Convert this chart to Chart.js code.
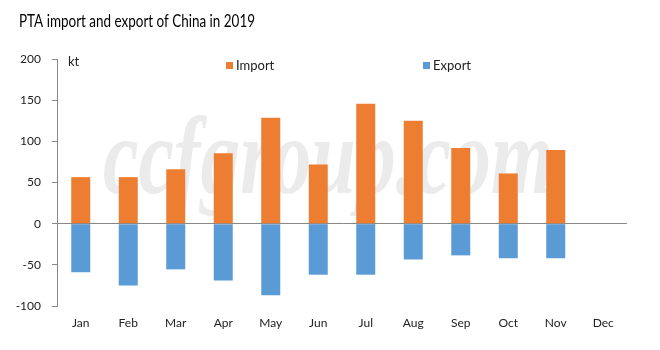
<!DOCTYPE html>
<html>
<head>
<meta charset="utf-8">
<script src="https://cdn.jsdelivr.net/npm/chart.js@4/dist/chart.umd.min.js"></script>
<style>
html,body{margin:0;padding:0;background:#fff;}
#wrap{width:660px;height:350px;position:relative;}
</style>
</head>
<body>
<div id="wrap"><canvas id="c" width="660" height="350"></canvas></div>
<script>
const months = ["Jan","Feb","Mar","Apr","May","Jun","Jul","Aug","Sep","Oct","Nov","Dec"];
const importVals = [56.5, 56.5, 66, 85.5, 128.5, 72, 145.5, 125, 92, 61, 89.5, null];
const exportVals = [-59, -75, -55.5, -69, -87, -62, -62, -43.5, -38.5, -42, -42, null];
const yTicks = [-100, -50, 0, 50, 100, 150, 200];
const titleText = "PTA import and export of China in 2019";
const unitText = "kt";
const watermarkText = "ccfgroup.com";

const FONT = "Lato, 'Open Sans', sans-serif";

const extras = {
  id: 'extras',
  beforeDatasetsDraw(chart) {
    const ctx = chart.ctx;
    ctx.save();
    ctx.font = "bold italic 110px 'Liberation Serif', serif";
    ctx.fillStyle = '#ebebeb';
    const w = ctx.measureText(watermarkText).width;
    const targetW = 450;
    ctx.translate(103, 193);
    ctx.scale(targetW / w, 1);
    ctx.textBaseline = 'alphabetic';
    ctx.fillText(watermarkText, 0, 0);
    ctx.restore();
  },
  afterDraw(chart) {
    const ctx = chart.ctx;
    const a = chart.chartArea;
    ctx.save();
    ctx.font = "17px " + FONT;
    ctx.fillStyle = '#000';
    ctx.textBaseline = 'middle';
    ctx.textAlign = 'left';
    ctx.fillText(titleText, 19, 22, 236);
    ctx.font = "13px " + FONT;
    ctx.fillStyle = '#222';
    ctx.fillText(unitText, a.left + 11, 62);
    const ds = chart.data.datasets;
    const pos = [{x: 226}, {x: 423}];
    ds.forEach((d, i) => {
      ctx.fillStyle = d.backgroundColor;
      ctx.fillRect(pos[i].x, 62, 7, 7);
      ctx.fillStyle = '#222';
      ctx.font = "13px " + FONT;
      ctx.fillText(d.label, pos[i].x + 10, 66);
    });
    ctx.restore();
  }
};

new Chart(document.getElementById('c'), {
  type: 'bar',
  data: {
    labels: months,
    datasets: [
      { label: 'Import', data: importVals, backgroundColor: '#ED7D31', stack: 's', categoryPercentage: 1, barPercentage: 0.4 },
      { label: 'Export', data: exportVals, backgroundColor: '#5B9BD5', stack: 's', categoryPercentage: 1, barPercentage: 0.4 }
    ]
  },
  options: {
    responsive: false,
    animation: false,
    devicePixelRatio: 1,
    layout: { padding: { left: 0, right: 33, top: 59, bottom: 0 } },
    plugins: { legend: { display: false }, title: { display: false }, tooltip: { enabled: false } },
    scales: {
      x: {
        stacked: true,
        afterFit(scale) { scale.height = 44; },
        grid: { display: false, drawTicks: false },
        border: { display: false },
        ticks: { color: '#222', font: { family: FONT, size: 12 }, padding: 10, maxRotation: 0, autoSkip: false }
      },
      y: {
        stacked: true,
        min: -100, max: 200,
        afterFit(scale) { scale.width = 57; },
        afterBuildTicks(scale) { scale.ticks = yTicks.map(v => ({ value: v })); },
        grid: {
          color: c => (c.tick && c.tick.value === 0) ? '#888888' : 'rgba(0,0,0,0)',
          tickColor: '#888888',
          tickLength: 5,
          lineWidth: 1
        },
        border: { display: true, color: '#888888' },
        ticks: { color: '#222', font: { family: FONT, size: 12 }, padding: 11 }
      }
    }
  },
  plugins: [extras]
});
</script>
</body>
</html>
